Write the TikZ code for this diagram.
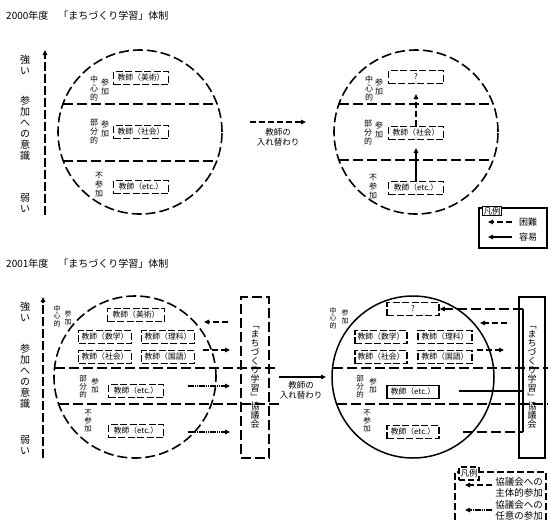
\documentclass[tikz,border=0pt]{standalone}
\usepackage{fontspec}
\setmainfont{Noto Sans CJK JP}
\usetikzlibrary{arrows.meta}
\newcommand\fsz[2]{\fontsize{#1}{#2}\selectfont}
\begin{document}
\begin{tikzpicture}[x=1pt,y=-1pt,
  dl/.style={line width=1.6pt,dash pattern=on 10pt off 4pt},
  ds/.style={line width=1.5pt,dash pattern=on 6pt off 3pt},
  dt/.style={line width=1.5pt,dash pattern=on 1.6pt off 0.6pt},
  sl/.style={line width=1.5pt},
  bx/.style={draw,line width=1.6pt,dash pattern=on 7pt off 2.5pt,minimum height=13pt,inner sep=0pt,font=\fsz{7.8}{8}},
  sbx/.style={draw,line width=1.6pt,minimum height=13pt,inner sep=0pt,font=\fsz{7.8}{8}},
  vl/.style={align=center,inner sep=0pt,font=\fsz{8}{9}},
  vs/.style={align=center,inner sep=0pt,font=\fsz{7}{7.5}},
  vm/.style={align=center,inner sep=0pt,font=\fsz{7.5}{8}},
  ax/.style={align=center,inner sep=0pt,font=\fsz{10}{11}},
  tip/.style={-{Triangle[length=5pt,width=4.5pt]}},
  ttl/.style={anchor=west,inner sep=0pt,font=\fsz{10}{12}},
  lgt/.style={align=center,inner sep=0pt,font=\fsz{9.5}{11}}]
\useasboundingbox (0,0) rectangle (548,520);
\fill[white] (0,0) rectangle (548,520);

% ===== 2000 =====
\node[ttl] (t1) at (6,16) {2000年度　「まちづくり学習」体制};

\coordinate (a1b) at (45,215);
\coordinate (a1t) at (45,50);
\draw[dl,tip,line width=1.4pt,dash pattern=on 9pt off 3pt] (a1b) -- (a1t);
\node[ax] (s1) at (25,65) {強\\い};
\node[ax] (s2) at (25,128) {参\\加\\へ\\の\\意\\識};
\node[ax] (s3) at (25,203) {弱\\い};

\node[draw,circle,dl,minimum size=164pt,inner sep=0pt] (c1) at (140,132) {};
\draw[dl] (63,104) -- (217,104);
\draw[dl] (63,161) -- (217,161);
\node[bx,minimum width=55pt] (b1a) at (141,78) {教師（美術）};
\node[bx,minimum width=55pt] (b1b) at (141,132) {教師（社会）};
\node[bx,minimum width=55pt] (b1c) at (141,187) {教師（etc.）};
\node[vl] (l1a) at (94,88) {中\\心\\的};
\node[vl] (l1b) at (105,87) {参\\加};
\node[vl] (l1c) at (94,131) {部\\分\\的};
\node[vl] (l1d) at (105,129) {参\\加};
\node[vl] (l1e) at (99,185) {不\\参\\加};

\coordinate (m1s) at (250,122);
\coordinate (m1e) at (306,122);
\draw[ds,tip] (m1s) -- (m1e);
\node[align=center,inner sep=0pt,font=\fsz{8.5}{10}] (m1t) at (278,137) {教師の\\入れ替わり};

\node[draw,circle,dl,minimum size=164pt,inner sep=0pt] (c2) at (416,132) {};
\draw[dl] (339,104) -- (493,104);
\draw[dl] (339,160) -- (493,160);
\node[bx,minimum width=55pt] (b2a) at (416,77) {?};
\node[bx,minimum width=55pt] (b2b) at (416,133) {教師（社会）};
\node[bx,minimum width=55pt] (b2c) at (416,188) {教師（etc.）};
\node[vl] (l2a) at (369,88) {中\\心\\的};
\node[vl] (l2b) at (379,87) {参\\加};
\node[vl] (l2c) at (368,132) {部\\分\\的};
\node[vl] (l2d) at (379,130) {参\\加};
\node[vl] (l2e) at (373,187) {不\\参\\加};
\coordinate (q1) at (416,94);
\coordinate (q2) at (416,148);
\draw[ds,tip] (b2b.north) -- (q1);
\draw[sl,tip] (b2c.north) -- (q2);

\draw[line width=1.1pt] (479,208) rectangle (547,248);
\node[draw,line width=0.9pt,fill=white,inner sep=1pt,font=\fsz{8.5}{9}] (lg1) at (492,211) {凡例};
\coordinate (lg1a) at (512,222);
\coordinate (lg1b) at (488,222);
\coordinate (lg1c) at (512,237);
\coordinate (lg1d) at (488,237);
\draw[ds,tip] (lg1a) -- (lg1b);
\draw[sl,tip] (lg1c) -- (lg1d);
\node[inner sep=0pt,font=\fsz{9}{10}] (lg1t1) at (528,222) {困難};
\node[inner sep=0pt,font=\fsz{9}{10}] (lg1t2) at (528,237) {容易};

% ===== 2001 =====
\node[ttl] (t2) at (6,264) {2001年度　「まちづくり学習」体制};

\coordinate (a2b) at (43,458);
\coordinate (a2t) at (43,297);
\draw[dl,tip,line width=1.4pt,dash pattern=on 9pt off 3pt] (a2b) -- (a2t);
\node[ax] (s4) at (25,312) {強\\い};
\node[ax] (s5) at (25,376) {参\\加\\へ\\の\\意\\識};
\node[ax] (s6) at (25,445) {弱\\い};

\node[draw,circle,dl,minimum size=162pt,inner sep=0pt] (c3) at (135,377) {};
\draw[dl] (55,368) -- (278,368);
\draw[dl] (59,404) -- (280,404);
\node[draw,dl,minimum width=28pt,minimum height=161pt,inner sep=0pt,align=center,font=\fsz{9}{9}] (k1) at (255,377.5) {﹁\\ま\\ち\\づ\\く\\り\\学\\習\\﹂\\協\\議\\会};

\node[bx,minimum width=57pt] (b3a) at (136,315) {教師（美術）};
\node[bx,minimum width=53pt] (b3b) at (105,337) {教師（数学）};
\node[bx,minimum width=53pt] (b3c) at (168,337) {教師（理科）};
\node[bx,minimum width=53pt] (b3d) at (105,357) {教師（社会）};
\node[bx,minimum width=53pt] (b3e) at (168,357) {教師（国語）};
\node[bx,minimum width=55pt] (b3f) at (136,391) {教師（etc.）};
\node[bx,minimum width=55pt] (b3g) at (136,431) {教師（etc.）};
\node[vs] (l3a) at (57,316) {中\\心\\的};
\node[vs] (l3b) at (68,318) {参\\加};
\node[vm] (l3c) at (83,387) {部\\分\\的};
\node[vm] (l3d) at (95,386) {参\\加};
\node[vm] (l3e) at (88,421) {不\\参\\加};

\coordinate (p1s) at (228,322);
\coordinate (p1e) at (204,322);
\coordinate (p2s) at (203,350);
\coordinate (p2e) at (230,350);
\coordinate (p3s) at (188,386);
\coordinate (p3e) at (230,386);
\coordinate (p4s) at (188,432);
\coordinate (p4e) at (230,432);
\draw[ds,tip] (p1s) -- (p1e);
\draw[ds,tip] (p2s) -- (p2e);
\draw[dt,tip] (p3s) -- (p3e);
\draw[dt,tip] (p4s) -- (p4e);

\coordinate (m2s) at (279,377);
\coordinate (m2e) at (326,377);
\draw[sl,tip] (m2s) -- (m2e);
\node[align=center,inner sep=0pt,font=\fsz{8.5}{10}] (m2t) at (301,390) {教師の\\入れ替わり};

\node[draw,circle,line width=1.5pt,minimum size=162pt,inner sep=0pt] (c4) at (413,377) {};
\draw[dl] (333,368) -- (548,368);
\draw[dl] (337,404) -- (548,404);
\node[draw,line width=1.5pt,minimum width=26pt,minimum height=161pt,inner sep=0pt,align=center,font=\fsz{9}{9}] (k2) at (532,377.5) {﹁\\ま\\ち\\づ\\く\\り\\学\\習\\﹂\\協\\議\\会};

\node[bx,minimum width=52pt] (b4a) at (413,309) {?};
\node[bx,minimum width=52pt] (b4b) at (381,337) {教師（数学）};
\node[bx,minimum width=54pt] (b4c) at (445,337) {教師（理科）};
\node[bx,minimum width=52pt] (b4d) at (381,357) {教師（社会）};
\node[bx,minimum width=54pt] (b4e) at (445,357) {教師（国語）};
\node[sbx,minimum width=52pt] (b4f) at (413,392) {教師（etc.）};
\node[bx,minimum width=52pt] (b4g) at (413,432) {教師（etc.）};
\node[vs] (l4a) at (333,318) {中\\心\\的};
\node[vs] (l4b) at (345,317) {参\\加};
\node[vm] (l4c) at (360,387) {部\\分\\的};
\node[vm] (l4d) at (373,386) {参\\加};
\node[vm] (l4e) at (367,421) {不\\参\\加};

\coordinate (kv1) at (523,309);
\coordinate (kv2) at (523,391);
\coordinate (kv3) at (523,432);
\coordinate (r2s) at (459,391);
\coordinate (r3s) at (463,432);
\draw[line width=1.3pt] (kv1) -- (kv3);
\draw[dl,tip] (kv1) -- (b4a.east);
\draw[sl] (r2s) -- (kv2);
\draw[dl] (r3s) -- (kv3);
\coordinate (r4s) at (507,323);
\coordinate (r4e) at (480,323);
\coordinate (r5s) at (477,350);
\coordinate (r5e) at (504,350);
\draw[ds,tip] (r4s) -- (r4e);
\draw[ds,tip] (r5s) -- (r5e);

\draw[ds,dash pattern=on 7pt off 3pt] (455,520) -- (455,472) -- (546,472) -- (546,520);
\node[draw,ds,fill=white,minimum width=20pt,minimum height=13pt,inner sep=0pt,font=\fsz{8.5}{9}] (lg2) at (469,473.5) {凡例};
\coordinate (lg2a) at (492,485);
\coordinate (lg2b) at (465,485);
\coordinate (lg2c) at (492,510);
\coordinate (lg2d) at (465,510);
\draw[ds,tip] (lg2a) -- (lg2b);
\draw[dt,tip] (lg2c) -- (lg2d);
\node[lgt] (lg2t1) at (519,487.5) {協議会への\\主体的参加};
\node[lgt] (lg2t2) at (519,510) {協議会への\\任意の参加};
\end{tikzpicture}
\end{document}
